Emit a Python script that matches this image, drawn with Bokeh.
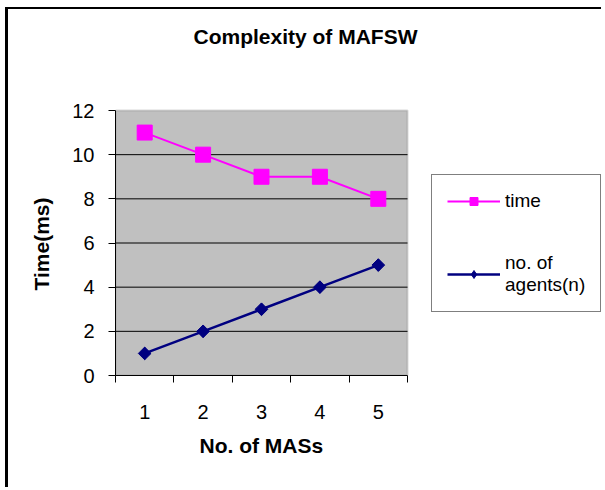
from bokeh.plotting import figure
from bokeh.models import (FixedTicker, Legend, LegendItem, Range1d, Label,
                          BoxAnnotation, Title)
from bokeh.embed import file_html
from bokeh.resources import INLINE
import numpy as np

# ---- data ----
mas = [1, 2, 3, 4, 5]
mas_labels = ["1", "2", "3", "4", "5"]
time_ms = [11, 10, 9, 9, 8]
agents = [1, 2, 3, 4, 5]
y_ticks = [0, 2, 4, 6, 8, 10, 12]
series_names = ["time", "no. of\nagents(n)"]
chart_title = "Complexity of MAFSW"
x_title = "No. of MASs"
y_title = "Time(ms)"

FONT = "Liberation Sans"

# ---- layout (pixels) ----
W, H = 596, 480
ML, MR, MT, MB = 107, 2, 6, 114      # borders around the frame
FRAME_W = W - ML - MR
FRAME_H = H - MT - MB
PLOT_W, PLOT_H = 292, 265            # grey plotting area inside the frame

x0, x1 = mas[0] - 0.5, mas[-1] + 0.5
y0, y1 = y_ticks[0], y_ticks[-1]
x_end = x0 + (x1 - x0) * FRAME_W / PLOT_W
y_end = y0 + (y1 - y0) * FRAME_H / PLOT_H

p = figure(width=W, height=H, output_backend="svg", toolbar_location=None,
           x_range=Range1d(x0, x_end), y_range=Range1d(y0, y_end))
p.min_border_left = ML
p.min_border_right = MR
p.min_border_top = MT
p.min_border_bottom = MB
p.styles = {"margin-left": "5px", "margin-top": "7px",
            "border-left": "3px solid black", "border-top": "2px solid black"}

p.border_fill_color = "white"
p.background_fill_color = "white"
p.outline_line_color = None
p.grid.visible = False

# grey plot area
area = BoxAnnotation(left=x0, right=x1, bottom=y0, top=y1,
                     fill_color="#C0C0C0", fill_alpha=1,
                     line_color="#808080", line_width=2, level="underlay")
p.add_layout(area)

# horizontal grid lines
gy = y_ticks[1:-1]
p.segment(x0=[x0] * len(gy), x1=[x1] * len(gy), y0=gy, y1=gy,
          line_color="black", line_width=1)

# y axis
p.yaxis.bounds = (y0, y1)
p.yaxis.ticker = FixedTicker(ticks=y_ticks)
p.yaxis.axis_line_color = "black"
p.yaxis.axis_line_width = 1
p.yaxis.major_tick_line_color = "black"
p.yaxis.major_tick_out = 7
p.yaxis.major_tick_in = 0
p.yaxis.minor_tick_line_color = None
p.yaxis.major_label_text_font = FONT
p.yaxis.major_label_text_font_size = "20px"
p.yaxis.major_label_text_color = "black"
p.yaxis.major_label_standoff = 14

# x axis: labels at category centres, ticks at boundaries
bounds = [m - 0.5 for m in mas] + [mas[-1] + 0.5]
p.xaxis.bounds = (x0, x1)
p.xaxis.ticker = FixedTicker(ticks=mas, minor_ticks=bounds)
p.xaxis.major_label_overrides = {m: lab for m, lab in zip(mas, mas_labels)}
p.xaxis.axis_line_color = "black"
p.xaxis.major_tick_line_color = None
p.xaxis.major_tick_out = 7
p.xaxis.major_tick_in = 0
p.xaxis.minor_tick_line_color = "black"
p.xaxis.minor_tick_out = 7
p.xaxis.minor_tick_in = 0
p.xaxis.major_label_text_font = FONT
p.xaxis.major_label_text_font_size = "20px"
p.xaxis.major_label_text_color = "black"
p.xaxis.major_label_standoff = 22

# axis titles, positioned over the grey area (offset from the frame edge)
xt = Title(text=x_title, align="left", offset=84, standoff=20,
           text_font=FONT, text_font_size="21px", text_font_style="bold",
           text_color="black")
p.add_layout(xt, "below")
yt = Title(text=y_title, align="left", offset=85, standoff=34,
           text_font=FONT, text_font_size="21px", text_font_style="bold",
           text_color="black")
p.add_layout(yt, "left")

# series (legend markers drawn first, hidden beneath the plotted markers)
lg1 = p.scatter(mas, time_ms, marker="square", size=13, fill_color="#FF00FF",
                line_color="#FF00FF")
lg2 = p.scatter(mas, agents, marker="diamond", size=12, fill_color="#000080",
                line_color="#000080")
l1 = p.line(mas, time_ms, line_color="#FF00FF", line_width=2)
s1 = p.scatter(mas, time_ms, marker="square", size=15, fill_color="#FF00FF",
               line_color="#FF00FF")
l2 = p.line(mas, agents, line_color="#000080", line_width=2.5)
s2 = p.scatter(mas, agents, marker="square", angle=np.pi / 4, size=9,
               fill_color="#000080", line_color="#000080")

legend = Legend(items=[LegendItem(label=series_names[0], renderers=[l1, lg1]),
                       LegendItem(label=series_names[1], renderers=[l2, lg2])],
                location=(316, 63))
legend.glyph_width = 53
legend.glyph_height = 20
legend.label_standoff = 5
legend.padding = 15
legend.spacing = 40
legend.margin = 0
legend.label_text_font = FONT
legend.label_text_font_size = "19px"
legend.label_text_color = "black"
legend.border_line_color = "black"
legend.border_line_width = 1
legend.background_fill_color = "white"
legend.background_fill_alpha = 1
p.add_layout(legend)

title = Label(x=190, y=339, x_units="screen", y_units="screen",
              text=chart_title, text_align="center",
              text_baseline="middle", text_font=FONT,
              text_font_size="21px", text_font_style="bold", text_color="black")
p.add_layout(title)

open("out.html", "w").write(file_html(p, INLINE))
